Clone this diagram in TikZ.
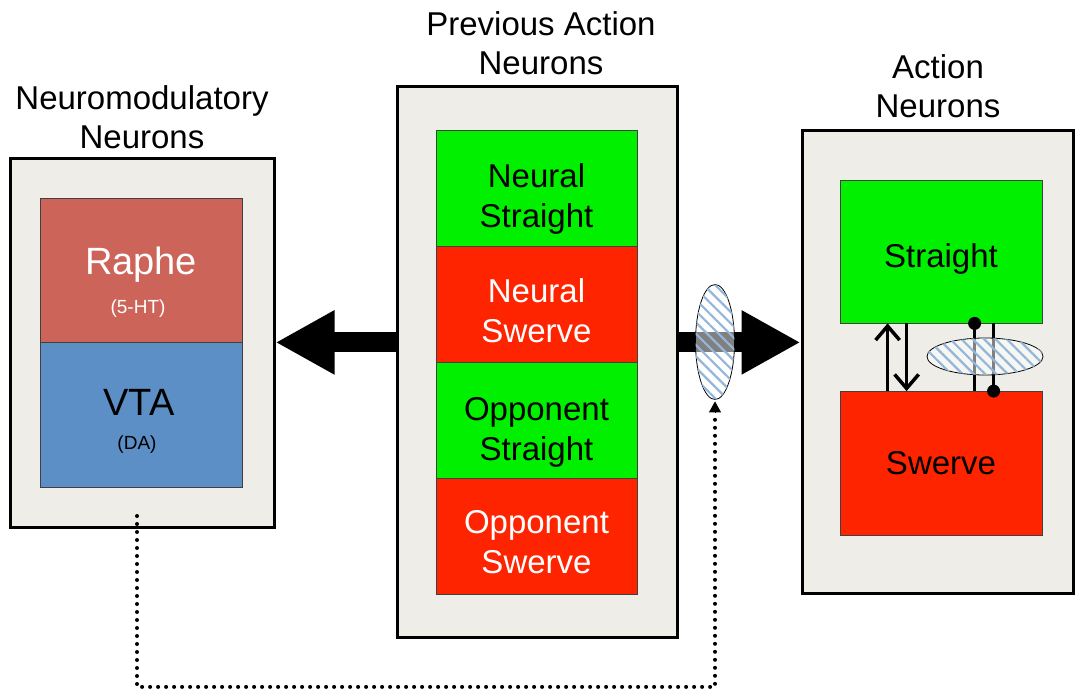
\documentclass[tikz,border=0pt]{standalone}
\usepackage{fontspec}
\setmainfont{Liberation Sans}
\usetikzlibrary{arrows.meta,shapes.geometric,patterns.meta,calc}

\definecolor{panel}{HTML}{EEEDE7}
\definecolor{goGreen}{HTML}{00F000}
\definecolor{stopRed}{HTML}{FF2400}
\definecolor{rapheRed}{HTML}{CC6459}
\definecolor{vtaBlue}{HTML}{5B8FC5}
\definecolor{hatchBlue}{HTML}{94B6DB}

\tikzset{
  panelbox/.style={draw=black, line width=3pt, fill=panel, inner sep=0pt},
  cellbox/.style={draw=black!75, line width=0.8pt, inner sep=0pt},
  celltext/.style={align=center, inner sep=0pt, font=\fontsize{33}{40}\selectfont},
  title/.style={align=center, font=\fontsize{33}{39}\selectfont},
  bigarrow/.style={line width=20pt, -{Triangle[length=59pt,width=60pt]}},
  gate/.style={ellipse, draw=black, line width=0.8pt, inner sep=0pt,
    fill=white, fill opacity=0.5,
    postaction={pattern={Lines[angle=-45,distance=8pt,line width=2.2pt]},
      pattern color=hatchBlue, fill opacity=0.65}},
  ctl/.style={line width=3.5pt},
  excite/.style={ctl, -{Straight Barb[length=14pt,width=24pt]}},
  dotline/.style={line width=4pt, line cap=round, dash pattern=on 0pt off 8pt},
}

\begin{document}
\begin{tikzpicture}[x=1pt, y=-1pt]
  \useasboundingbox (0,0) rectangle (1075,690);

  % panels
  \node[panelbox, minimum width=264, minimum height=369] (neuro) at (142,342.5) {};
  \node[panelbox, minimum width=280, minimum height=550] (prev) at (537,362) {};
  \node[panelbox, minimum width=271, minimum height=463] (action) at (937.5,362) {};

  % panel titles
  \node[title] (neurotitle) at (142,117) {Neuromodulatory\\Neurons};
  \node[title] (prevtitle) at (541,43) {Previous Action\\Neurons};
  \node[title] (actiontitle) at (938,86) {Action\\Neurons};

  % neuromodulatory cells
  \node[cellbox, fill=rapheRed, minimum width=202, minimum height=144] (raphe) at (141,270) {};
  \node[cellbox, fill=vtaBlue, minimum width=202, minimum height=145] (vta) at (141,414.5) {};
  \node[text=white, font=\fontsize{38}{40}\selectfont] (raphetxt) at (141,265) {Raphe};
  \node[text=white, font=\fontsize{19}{20}\selectfont] (ht) at (138,309) {(5-HT)};
  \node[font=\fontsize{38}{40}\selectfont] (vtatxt) at (139,402) {VTA};
  \node[font=\fontsize{19}{20}\selectfont] (da) at (137,445) {(DA)};

  % previous action cells
  \node[cellbox, fill=goGreen, minimum width=201, minimum height=116,
    label={[celltext, yshift=-10.5pt]center:Neural\\Straight}] (nstr) at (536.5,188) {};
  \node[cellbox, fill=stopRed, minimum width=201, minimum height=116,
    label={[celltext, text=white, yshift=-7pt]center:Neural\\Swerve}] (nsw) at (536.5,304) {};
  \node[cellbox, fill=goGreen, minimum width=201, minimum height=116,
    label={[celltext, yshift=-12.5pt]center:Opponent\\Straight}] (ostr) at (536.5,420) {};
  \node[cellbox, fill=stopRed, minimum width=201, minimum height=116,
    label={[celltext, text=white, yshift=-6.5pt]center:Opponent\\Swerve}] (osw) at (536.5,536) {};

  % action cells
  \node[cellbox, fill=goGreen, minimum width=202, minimum height=143,
    label={[celltext, yshift=-7.5pt]center:Straight}] (straight) at (941,251.5) {};
  \node[cellbox, fill=stopRed, minimum width=202, minimum height=144,
    label={[celltext]center:Swerve}] (swerve) at (941,463.5) {};

  % main projections
  \draw[bigarrow] (prev.west |- raphe.south) -- (neuro.east |- raphe.south);
  \draw[bigarrow] (prev.east |- raphe.south) -- (action.west |- raphe.south);

  % mutual excitation between action cells
  \draw[excite] ([xshift=48pt]swerve.north west) -- ([xshift=48pt]straight.south west);
  \draw[excite] ([xshift=67pt]straight.south west) -- ([xshift=67pt]swerve.north west);

  % mutual inhibition between action cells
  \draw[ctl] ([xshift=135pt]straight.south west) -- ([xshift=135pt]swerve.north west);
  \fill ([xshift=135pt]straight.south west) circle (6.5pt);
  \draw[ctl] ([xshift=154pt]straight.south west) -- ([xshift=154pt]swerve.north west);
  \fill ([xshift=154pt]swerve.north west) circle (6.5pt);

  % plasticity gates
  \node[gate, minimum width=39, minimum height=115] (gate) at (715,342) {};
  \node[gate, minimum width=116, minimum height=37] (inhgate) at (985,356.5) {};

  % neuromodulatory signal to the gate
  \coordinate (dastart) at (137,516);
  \coordinate (loop) at ($(gate.south)+(0,287)$);
  \draw[dotline] (dastart) |- (loop) -- ([yshift=-16pt]gate.south);
  \draw[line width=1pt, -{Triangle[length=11pt,width=12pt]}]
    ([yshift=-12pt]gate.south) -- ([yshift=-1.5pt]gate.south);
\end{tikzpicture}
\end{document}
